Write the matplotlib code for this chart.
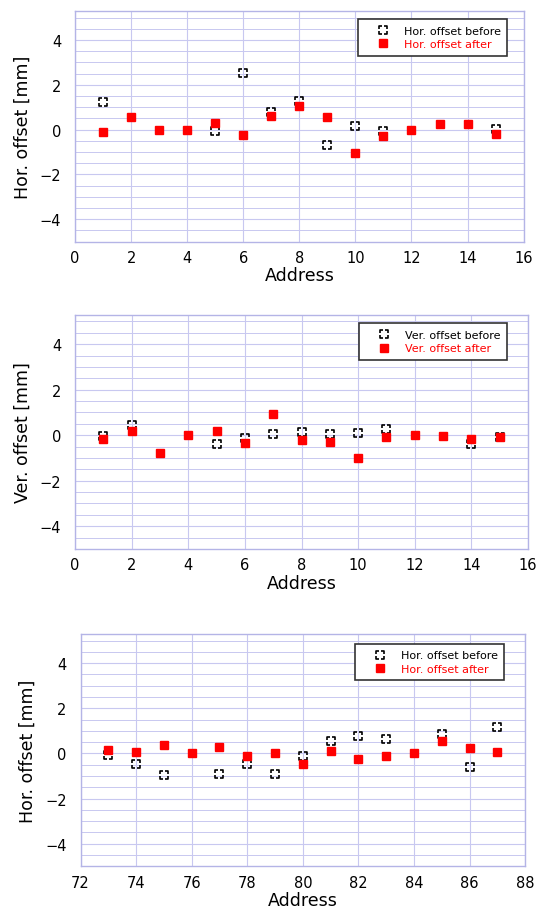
import numpy as np
import matplotlib.pyplot as plt
from matplotlib.path import Path
from matplotlib.ticker import MultipleLocator

plt.rcParams['font.family'] = ['DejaVu Sans']

nan = np.nan

# panel 1: horizontal offset, addresses 1-15
addr1 = [1, 2, 3, 4, 5, 6, 7, 8, 9, 10, 11, 12, 13, 14, 15]
hor_before1 = [1.21, nan, nan, nan, -0.07, 2.52, 0.77, 1.29, -0.67, 0.18, -0.07, nan, nan, nan, 0.03]
hor_after1 = [-0.10, 0.55, -0.04, 0.0, 0.30, -0.22, 0.59, 1.04, 0.55, -1.04, -0.30, 0.0, 0.25, 0.25, -0.18]

# panel 2: vertical offset, addresses 1-15
addr2 = [1, 2, 3, 4, 5, 6, 7, 8, 9, 10, 11, 12, 13, 14, 15]
ver_before2 = [-0.04, 0.43, nan, nan, -0.41, -0.12, 0.06, 0.13, 0.03, 0.10, 0.28, nan, nan, -0.38, -0.09]
ver_after2 = [-0.15, 0.18, -0.78, 0.0, 0.18, -0.34, 0.94, -0.22, -0.29, -1.01, -0.07, 0.0, -0.03, -0.16, -0.07]

# panel 3: horizontal offset, addresses 73-87
addr3 = [73, 74, 75, 76, 77, 78, 79, 80, 81, 82, 83, 84, 85, 86, 87]
hor_before3 = [-0.05, -0.46, -0.97, nan, -0.91, -0.46, -0.91, -0.12, 0.55, 0.75, 0.66, nan, 0.85, -0.60, 1.19]
hor_after3 = [0.13, 0.06, 0.36, 0.0, 0.28, -0.12, 0.0, -0.45, 0.10, -0.25, -0.12, 0.0, 0.57, 0.25, 0.06]

# axes rect, legend anchor per panel
panels = [
    (addr1, hor_before1, hor_after1, 'Hor. offset', (0, 16), [0.140, 0.734, 0.835, 0.253], (0.964, 0.965)),
    (addr2, ver_before2, ver_after2, 'Ver. offset', (0, 16), [0.140, 0.397, 0.843, 0.257], (0.954, 0.962)),
    (addr3, hor_before3, hor_after3, 'Hor. offset', (72, 88), [0.150, 0.049, 0.828, 0.255], (0.953, 0.957)),
]

# square marker drawn as four corners only (gaps in the middle of each side)
g = 0.3
corner_verts = []
corner_codes = []
for sx, sy in [(-1, -1), (1, -1), (1, 1), (-1, 1)]:
    corner_verts += [(sx, sy * g), (sx, sy), (sx * g, sy)]
    corner_codes += [Path.MOVETO, Path.LINETO, Path.LINETO]
corner_square = Path(corner_verts, corner_codes)

grid_col = '#c8c8f0'
frame_col = '#b4b4e6'

fig = plt.figure(figsize=(5.37, 9.12), dpi=100)

for x, before, after, name, xlim, pos, anchor in panels:
    ax = fig.add_axes(pos)

    ax.plot(x, before, ls='none', marker=corner_square, ms=6, mfc='none',
            mec='black', mew=1.2, zorder=3, label=name + ' before')
    ax.plot(x, after, 's', ms=5.2, mfc='red', mec='red', ls='none', zorder=4,
            label=name + ' after')

    ax.set_xlim(*xlim)
    ax.set_ylim(-5, 5.3)
    ax.xaxis.set_major_locator(MultipleLocator(2))
    ax.yaxis.set_major_locator(MultipleLocator(2))
    ax.yaxis.set_minor_locator(MultipleLocator(0.5))
    ax.grid(True, which='major', color=grid_col, lw=0.8)
    ax.grid(True, which='minor', axis='y', color=grid_col, lw=0.7)
    ax.set_axisbelow(True)
    for s in ax.spines.values():
        s.set_color(frame_col)
        s.set_linewidth(1.0)
    ax.tick_params(which='both', length=0, labelsize=10.5, pad=6)
    ax.tick_params(axis='y', pad=10)

    ax.set_xlabel('Address', fontsize=12.5, labelpad=1)
    ax.set_ylabel(name + ' [mm]', fontsize=12.5, labelpad=6)

    leg = ax.legend(loc='upper right', bbox_to_anchor=anchor, borderaxespad=0,
                    fontsize=8, frameon=True, fancybox=False,
                    edgecolor='#333333', framealpha=1, handlelength=3.4,
                    borderpad=0.6, labelspacing=0.3, handletextpad=0.15)
    leg.get_frame().set_linewidth(1.2)
    leg.get_texts()[1].set_color('red')

fig.savefig('out.png', dpi=100)
